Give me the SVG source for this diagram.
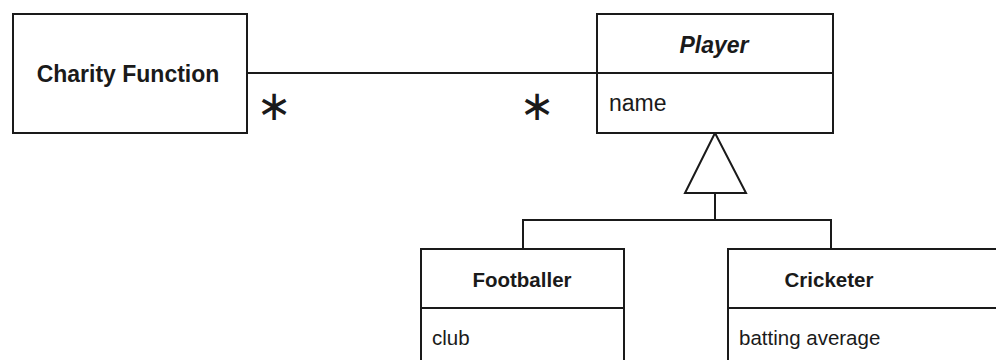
<svg xmlns="http://www.w3.org/2000/svg" width="996" height="360" viewBox="0 0 996 360">
<style>
.box{fill:#fff;stroke:#1a1a1a;stroke-width:2}
.ln{fill:none;stroke:#1a1a1a;stroke-width:2}
.t{font-family:"Liberation Sans",Arial,sans-serif;fill:#1a1a1a}
.b{font-weight:bold}
.m{font-family:"DejaVu Sans",sans-serif;fill:#1a1a1a;text-anchor:middle}
</style>
<rect width="996" height="360" fill="#fff"/>
<g id="connectors">
<line class="ln" x1="247" y1="73" x2="597" y2="73"/>
<polygon class="box" points="715,133 685,193 746,193"/>
<polyline class="ln" points="715,193 715,220"/>
<polyline class="ln" points="523,249 523,220 831,220 831,249"/>
<text class="m" x="274" y="120" font-size="42">∗</text>
<text class="m" x="537" y="120" font-size="42">∗</text>
</g>
<g id="charity">
<rect class="box" x="13" y="14" width="234" height="119"/>
<text class="t b" x="128" y="82" font-size="23" text-anchor="middle">Charity Function</text>
</g>
<g id="player">
<rect class="box" x="597" y="14" width="236" height="119"/>
<line class="ln" x1="597" y1="73" x2="833" y2="73"/>
<text class="t b" x="714" y="53" font-size="23" font-style="italic" text-anchor="middle">Player</text>
<text class="t" x="609" y="111" font-size="23">name</text>
</g>
<g id="footballer">
<rect class="box" x="421" y="249" width="203" height="130"/>
<line class="ln" x1="421" y1="308" x2="624" y2="308"/>
<text class="t b" x="522" y="287" font-size="20.5" text-anchor="middle">Footballer</text>
<text class="t" x="432" y="345" font-size="20.5">club</text>
</g>
<g id="cricketer">
<rect class="box" x="728" y="249" width="290" height="130"/>
<line class="ln" x1="728" y1="308" x2="1018" y2="308"/>
<text class="t b" x="829" y="287" font-size="20.5" text-anchor="middle">Cricketer</text>
<text class="t" x="739" y="345" font-size="20.5">batting average</text>
</g>
</svg>
